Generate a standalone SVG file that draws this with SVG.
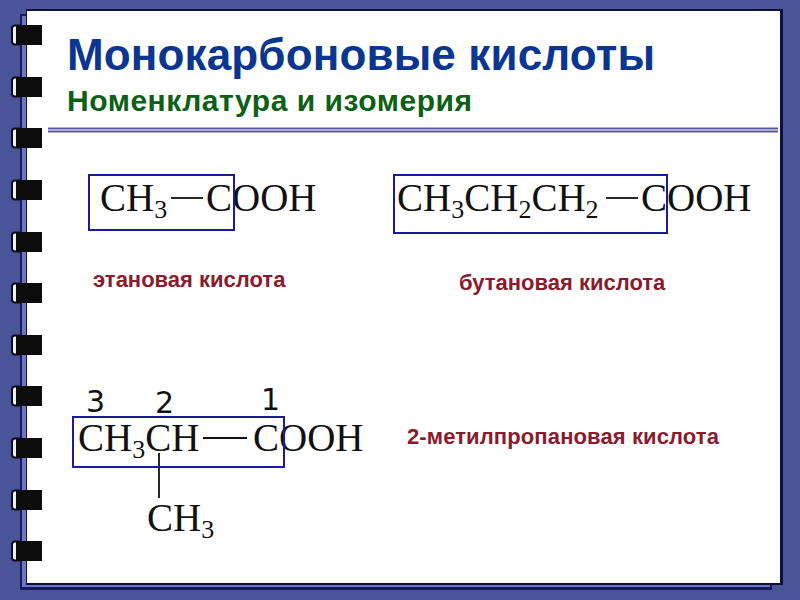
<svg xmlns="http://www.w3.org/2000/svg" width="800" height="600" viewBox="0 0 800 600">
<defs>
<style>
.f{font-family:"Liberation Serif","Times New Roman",serif;font-size:39px;fill:#111}
.s{font-size:26px}
.box{fill:none;stroke:#1a1a9c;stroke-width:2}
.bond{stroke:#111;stroke-width:1.8;fill:none}
.nm{font-family:"Liberation Sans",Arial,sans-serif;font-weight:bold;font-size:22px;fill:#8b1a2b}
.num{font-family:"DejaVu Sans",sans-serif;font-size:30px;fill:#111}
.hd{font-family:"Liberation Sans",Arial,sans-serif;font-weight:bold}
</style>
<g id="ring">
<rect x="12" y="-9.500" width="10" height="19" rx="3" fill="#f0f0f0" stroke="#0a0a20" stroke-width="2"/>
<rect x="16" y="-10" width="26" height="20" fill="#0c0c0c"/>
</g>
</defs>
<rect width="800" height="600" fill="#4a5499"/>
<g id="page">
<rect x="20" y="14" width="752" height="576" fill="#1a1a60"/>
<rect x="22" y="16" width="748" height="571" fill="#6f74c4"/>
<rect x="26" y="9" width="757" height="576" fill="#10103a"/>
<rect x="27" y="11" width="753" height="572" fill="#fff"/>
</g>
<g id="rings">
<use href="#ring" y="35"/><use href="#ring" y="87"/><use href="#ring" y="138"/><use href="#ring" y="190"/><use href="#ring" y="242"/><use href="#ring" y="293"/><use href="#ring" y="345"/><use href="#ring" y="396"/><use href="#ring" y="448"/><use href="#ring" y="500"/><use href="#ring" y="551"/>
</g>
<g id="title">
<text class="hd" x="67" y="70" font-size="44px" textLength="588" fill="#0a3590">Монокарбоновые кислоты</text>
<text class="hd" x="67" y="111" font-size="30px" textLength="405" fill="#0c5f14">Номенклатура и изомерия</text>
<line x1="48" y1="128.500" x2="778" y2="128.500" stroke="#5a5a9c" stroke-width="2"/>
<line x1="48" y1="131.500" x2="778" y2="131.500" stroke="#5a5a9c" stroke-width="2"/>
</g>
<g id="acid1">
<text class="f" x="100" y="211">CH<tspan class="s" dy="7">3</tspan></text>
<line class="bond" x1="171" y1="198" x2="203" y2="198"/>
<text class="f" x="206" y="211">COOH</text>
<rect class="box" x="89" y="175" width="145" height="55"/>
<text class="nm" x="93" y="287">этановая кислота</text>
</g>
<g id="acid2">
<text class="f" x="397" y="211">CH<tspan class="s" dy="7">3</tspan><tspan dy="-7">CH</tspan><tspan class="s" dy="7">2</tspan><tspan dy="-7">CH</tspan><tspan class="s" dy="7">2</tspan></text>
<line class="bond" x1="606" y1="198" x2="638" y2="198"/>
<text class="f" x="641" y="211">COOH</text>
<rect class="box" x="394" y="175" width="273" height="58"/>
<text class="nm" x="459" y="290">бутановая кислота</text>
</g>
<g id="acid3">
<text class="num" x="86" y="412">3</text>
<text class="num" x="155" y="413">2</text>
<text class="num" x="261" y="410">1</text>
<text class="f" x="78" y="451">CH<tspan class="s" dy="7">3</tspan><tspan dy="-7">CH</tspan></text>
<line class="bond" x1="203" y1="438" x2="247" y2="438"/>
<text class="f" x="253" y="451">COOH</text>
<line class="bond" x1="159" y1="453" x2="159" y2="498"/>
<text class="f" x="147" y="531">CH<tspan class="s" dy="7">3</tspan></text>
<rect class="box" x="73" y="417" width="211" height="50"/>
<text class="nm" x="407" y="444" textLength="312">2-метилпропановая кислота</text>
</g>
</svg>
